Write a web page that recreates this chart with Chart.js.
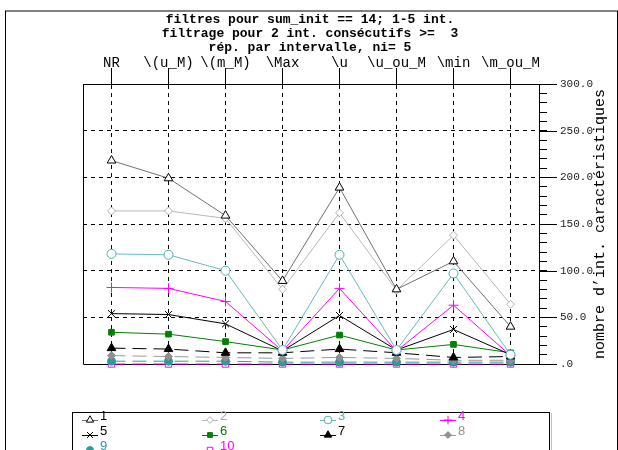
<!DOCTYPE html>
<html><head><meta charset="utf-8">
<script src="https://cdn.jsdelivr.net/npm/chart.js@4"></script>
<style>html,body{margin:0;padding:0;background:#fff;}canvas{display:block}</style>
</head><body>
<canvas id="c" width="618" height="450"></canvas>
<script>
const categories = ['NR', '\\(u_M)', '\\(m_M)', '\\Max', '\\u', '\\u_ou_M', '\\min', '\\m_ou_M'];
const titleLines = ['filtres pour sum_init == 14; 1-5 int.', 'filtrage pour 2 int. consécutifs >=  3', 'rép. par intervalle, ni= 5'];
const yTitle = "nombre d\u2019int. caractéristiques";
const seriesNames = ['1', '2', '3', '4', '5', '6', '7', '8', '9', '10'];
const s1 = [218, 199, 159, 89, 189, 80, 110, 40];
const s2 = [164, 164, 156, 80, 162, 79, 138, 64];
const s3 = [118, 117, 100, 15, 117, 15, 97, 10];
const s4 = [82, 81, 67, 14, 81, 14, 63, 9];
const s5 = [54, 53, 43, 14, 52, 15, 37, 10];
const s6 = [34, 32, 24, 15, 31, 15, 21, 12];
const s7 = [17, 16, 12, 12, 16, 12, 7, 8];
const s8 = [9, 8, 7, 6, 7, 6, 4, 4];
const s9 = [3, 3, 3, 2, 2, 2, 2, 2];
const s10 = [0, 0, 0, 0, 0, 0, 0, 0];
const yMin = 0, yMax = 300, yStep = 10, yMajor = 50;

function ds(label, data, line, ptBorder, ptFill, style, radius, textColor, dash) {
  return {
    label, data, borderColor: line, borderWidth: 1, borderDash: dash || [],
    pointStyle: style, pointRadius: radius, pointHoverRadius: radius,
    pointBorderColor: ptBorder, pointBackgroundColor: ptFill, pointBorderWidth: 1,
    fill: false, tension: 0, clip: false, textColor
  };
}
const DASH = [14, 7];
const datasets = [
  ds(seriesNames[0], s1, '#707070', '#000000', '#ffffff', 'triangle', 5, '#000000'),
  ds(seriesNames[1], s2, '#b8b8b8', '#b0b0b0', '#ffffff', 'rectRot', 4, '#a8a8a8'),
  ds(seriesNames[2], s3, '#66bcbc', '#4fb0b0', '#ffffff', 'circle', 4.5, '#4fb0b0'),
  ds(seriesNames[3], s4, '#ff00ff', '#ff00ff', '#ff00ff', 'cross', 5, '#ff00ff'),
  ds(seriesNames[4], s5, '#000000', '#000000', '#000000', 'crossRot', 5, '#000000'),
  ds(seriesNames[5], s6, '#008000', '#008000', '#008000', 'rect', 4, '#008000'),
  ds(seriesNames[6], s7, '#000000', '#000000', '#000000', 'triangle', 5, '#000000', DASH),
  ds(seriesNames[7], s8, '#999999', '#909090', '#909090', 'rectRot', 4, '#909090', DASH),
  ds(seriesNames[8], s9, '#2aa0a0', '#2a9a9a', '#2a9a9a', 'circle', 4, '#2a9a9a', DASH),
  ds(seriesNames[9], s10, '#ff00ff', '#ff00ff', 'rgba(0,0,0,0)', 'rect', 4.5, '#ff00ff', DASH)
];

const extras = {
  id: 'extras',
  beforeDatasetsDraw(chart) {
    const {ctx, chartArea: a} = chart;
    ctx.save();
    ctx.strokeStyle = '#000'; ctx.lineWidth = 1;
    ctx.beginPath();
    ctx.moveTo(a.left + 0.5, a.top); ctx.lineTo(a.left + 0.5, a.bottom + 0.5);
    ctx.lineTo(a.right, a.bottom + 0.5);
    ctx.stroke();
    const ys = chart.scales.y;
    ys.ticks.forEach(t => {
      if (t.value % yMajor === 0) {
        const py = Math.round(ys.getPixelForValue(t.value)) + 0.5;
        ctx.beginPath(); ctx.moveTo(a.right, py); ctx.lineTo(a.right + 18, py); ctx.stroke();
      }
    });
    ctx.restore();
  },
  afterDraw(chart) {
    const {ctx, chartArea: a} = chart;
    ctx.save();
    // frame
    ctx.strokeStyle = '#808080'; ctx.lineWidth = 2;
    ctx.beginPath(); ctx.moveTo(5, 11); ctx.lineTo(618, 11); ctx.stroke();
    ctx.strokeStyle = '#000'; ctx.lineWidth = 1;
    ctx.beginPath(); ctx.moveTo(5.5, 11); ctx.lineTo(5.5, 450); ctx.stroke();
    ctx.beginPath(); ctx.moveTo(617.5, 11); ctx.lineTo(617.5, 450); ctx.stroke();
    // title
    ctx.fillStyle = '#000';
    ctx.font = 'bold 13px "Liberation Mono"';
    ctx.textAlign = 'center'; ctx.textBaseline = 'middle';
    titleLines.forEach((t, i) => ctx.fillText(t, 310, 20 + i * 14));
    // y title
    ctx.font = '15px "Liberation Mono"';
    ctx.translate(600, (a.top + a.bottom) / 2);
    ctx.rotate(-Math.PI / 2);
    ctx.fillText(yTitle, 0, 0);
    ctx.restore();
    // legend
    ctx.save();
    ctx.strokeStyle = '#000'; ctx.lineWidth = 1;
    ctx.strokeRect(72.5, 412.5, 477, 60);
    ctx.strokeStyle = '#c0c0c0';
    ctx.beginPath(); ctx.moveTo(551.5, 413); ctx.lineTo(551.5, 450); ctx.stroke();
    const colX = [82, 202, 320, 440];
    const rowY = [420, 435, 450];
    chart.data.datasets.forEach((d, i) => {
      const x = colX[i % 4], y = rowY[Math.floor(i / 4)];
      ctx.strokeStyle = d.borderColor; ctx.lineWidth = 1;
      ctx.setLineDash([]);
      ctx.beginPath(); ctx.moveTo(x, y + 0.5); ctx.lineTo(x + 16, y + 0.5); ctx.stroke();
      ctx.strokeStyle = d.pointBorderColor; ctx.fillStyle = d.pointBackgroundColor;
      Chart.helpers.drawPoint(ctx, {pointStyle: d.pointStyle, radius: d.pointRadius * 0.85, rotation: 0, borderWidth: 1}, x + 8, y);
      ctx.fillStyle = d.textColor;
      ctx.font = '13px "Liberation Sans"';
      ctx.textAlign = 'left'; ctx.textBaseline = 'middle';
      ctx.fillText(d.label, x + 18, y - 4);
    });
    ctx.restore();
  }
};

new Chart(document.getElementById('c'), {
  type: 'line',
  data: { labels: categories, datasets },
  options: {
    responsive: false, animation: false, devicePixelRatio: 1,
    layout: { padding: { left: 83, right: 0, top: 54, bottom: 86 } },
    plugins: { legend: { display: false }, tooltip: { enabled: false }, title: { display: false } },
    scales: {
      x: {
        type: 'category', position: 'top', offset: true,
        afterFit(s) { s.height = 30; },
        grid: { color: '#000', lineWidth: 1, tickLength: 16, tickColor: '#000', offset: false },
        border: { display: true, color: '#000', dash: [4, 4] },
        ticks: { color: '#000', padding: -2, maxRotation: 0, autoSkip: false,
                 font: { family: 'Liberation Mono', size: 14, lineHeight: 1 } }
      },
      y: {
        position: 'right', min: yMin, max: yMax,
        afterFit(s) { s.width = 79; },
        afterBuildTicks(s) {
          const t = [];
          for (let v = yMin; v <= yMax; v += yStep) t.push({ value: v });
          s.ticks = t;
        },
        grid: {
          lineWidth: 1, tickLength: 8, tickColor: '#000',
          color: (c) => (c.tick && c.tick.value % yMajor === 0 && c.tick.value !== yMin && c.tick.value !== yMax) ? '#000' : 'rgba(0,0,0,0)'
        },
        border: { display: true, color: '#000', dash: [4, 4] },
        ticks: {
          autoSkip: false, padding: 13, color: '#222',
          font: { family: 'Liberation Mono', size: 11 },
          callback: (v) => v % yMajor === 0 ? (v === 0 ? '.0' : v.toFixed(1)) : ''
        }
      }
    }
  },
  plugins: [extras]
});
</script>
</body></html>
